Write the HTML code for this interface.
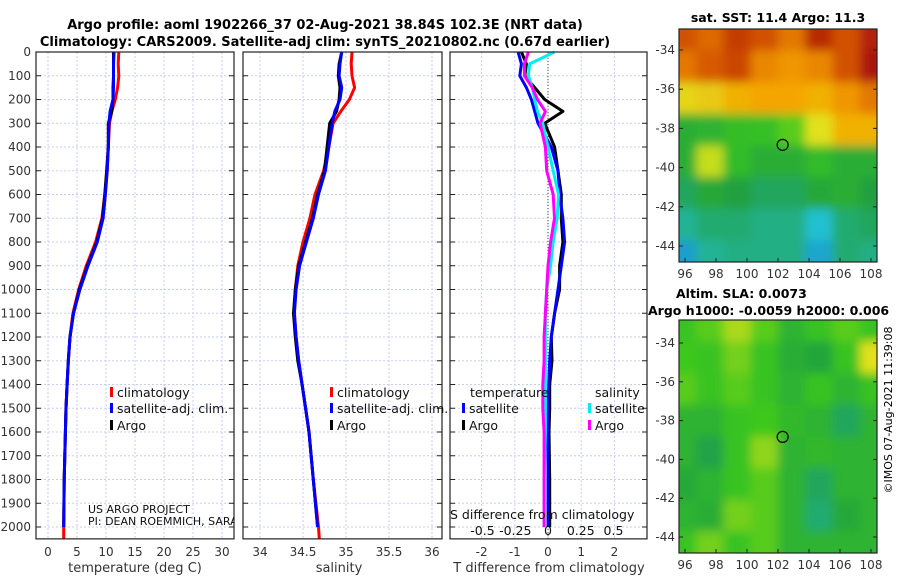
<!DOCTYPE html>
<html><head><meta charset="utf-8"><style>
body{margin:0;background:#fff;width:900px;height:580px;overflow:hidden}
svg text{font-family:"DejaVu Sans","Liberation Sans",sans-serif}
</style></head><body>
<svg id="c" width="900" height="580" viewBox="0 0 900 580">
<text x="325" y="29" font-size="13" font-weight="bold" text-anchor="middle">Argo profile: aoml 1902266_37 02-Aug-2021 38.84S 102.3E (NRT data)</text>
<text x="325" y="46" font-size="13" font-weight="bold" text-anchor="middle">Climatology: CARS2009. Satellite-adj clim: synTS_20210802.nc (0.67d earlier)</text>
<text x="778" y="22" font-size="12.5" font-weight="bold" text-anchor="middle">sat. SST: 11.4 Argo: 11.3</text>
<text x="676" y="298" font-size="12.5" font-weight="bold">Altim. SLA: 0.0073</text>
<text x="648" y="315" font-size="12.5" font-weight="bold">Argo h1000: -0.0059 h2000: 0.006</text>
<text transform="translate(892,410) rotate(-90)" font-size="11" text-anchor="middle">©IMOS 07-Aug-2021 11:39:08</text>
<g id="g"></g>
</svg>
<script>
const depth=[0,50,100,150,200,250,300,400,500,600,700,800,900,1000,1100,1200,1300,1400,1500,1600,1800,2000];
const tempClim=[12.2,12.1,12.2,12.0,11.6,11.0,10.6,10.4,10.2,9.8,9.3,8.2,6.6,5.3,4.3,3.8,3.5,3.3,3.1,3.0,2.8,2.7];
const tempSat=[11.4,11.3,11.3,11.3,11.2,10.7,10.5,10.4,10.2,9.9,9.5,8.5,6.9,5.5,4.4,3.8,3.5,3.3,3.1,3.0,2.8,2.7];
const tempArgo=[11.3,11.3,11.3,11.2,11.2,11.0,10.4,10.4,10.1,9.8,9.4,8.4,6.8,5.4,4.4,3.8,3.5,3.3,3.1,3.0,2.8,2.7];
const salClim=[35.07,35.06,35.07,35.1,35.04,34.94,34.85,34.80,34.74,34.64,34.58,34.50,34.44,34.41,34.40,34.42,34.45,34.49,34.53,34.57,34.62,34.68];
const salSat=[34.95,34.93,34.92,34.95,34.93,34.87,34.84,34.80,34.76,34.68,34.62,34.54,34.46,34.42,34.40,34.42,34.45,34.49,34.53,34.57,34.62,34.67];
const salArgo=[34.95,34.92,34.91,34.93,34.92,34.89,34.81,34.78,34.75,34.67,34.61,34.53,34.45,34.41,34.39,34.41,34.44,34.49,34.53,34.57,34.62,34.67];
const dTempSat=[-0.9,-0.8,-0.85,-0.65,-0.5,-0.4,-0.3,0.1,0.3,0.35,0.45,0.5,0.4,0.3,0.2,0.1,0.05,0.02,0.0,0.0,0.0,0.0];
const dTempArgo=[-0.8,-0.65,-0.7,-0.4,-0.1,0.45,-0.1,0.2,0.3,0.4,0.4,0.45,0.35,0.35,0.2,0.1,0.12,0.05,0.05,0.03,0.05,0.05];
const dSalSat=[0.05,-0.14,-0.15,-0.12,-0.1,-0.08,-0.04,0.0,0.04,0.08,0.07,0.04,0.02,-0.01,-0.02,-0.02,-0.02,-0.02,-0.02,-0.02,-0.03,-0.03];
const dSalArgo=[-0.15,-0.18,-0.18,-0.12,-0.08,-0.02,-0.06,-0.02,-0.01,0.04,0.05,0.02,0.0,-0.01,-0.02,-0.03,-0.03,-0.04,-0.04,-0.03,-0.03,-0.03];
const depthTicks=[0,100,200,300,400,500,600,700,800,900,1000,1100,1200,1300,1400,1500,1600,1700,1800,1900,2000];
const tempTicks=[0,5,10,15,20,25,30];
const salTicks=[34,34.5,35,35.5,36];
const salTickLabels=["34","34.5","35","35.5","36"];
const dTTicks=[-2,-1,0,1,2];
const dSTicks=[-0.5,-0.25,0,0.25,0.5];
const lonTicks=[96,98,100,102,104,106,108];
const latTicks=[-34,-36,-38,-40,-42,-44];
const sstGrid=[
[0.93,0.9,0.95,0.93,0.88,0.97,0.93,0.98],
[0.88,0.92,0.94,0.86,0.84,0.86,0.93,0.99],
[0.74,0.76,0.8,0.82,0.82,0.8,0.84,0.88],
[0.5,0.52,0.56,0.57,0.62,0.72,0.8,0.8],
[0.5,0.7,0.55,0.5,0.5,0.55,0.5,0.5],
[0.42,0.48,0.45,0.42,0.42,0.48,0.5,0.45],
[0.36,0.4,0.4,0.38,0.38,0.3,0.4,0.42],
[0.22,0.36,0.38,0.38,0.38,0.24,0.4,0.38]];
const slaGrid=[
[0.58,0.62,0.68,0.62,0.52,0.58,0.62,0.58],
[0.6,0.58,0.64,0.58,0.5,0.47,0.58,0.72],
[0.62,0.58,0.62,0.58,0.52,0.58,0.52,0.58],
[0.52,0.52,0.58,0.6,0.54,0.52,0.42,0.52],
[0.52,0.44,0.58,0.66,0.52,0.54,0.52,0.52],
[0.48,0.52,0.58,0.62,0.52,0.42,0.52,0.52],
[0.52,0.5,0.64,0.62,0.52,0.4,0.48,0.52],
[0.58,0.64,0.58,0.62,0.52,0.52,0.52,0.52]];
const argoLon=102.3, argoLat=-38.84;

const NS="http://www.w3.org/2000/svg", G=document.getElementById('g');
function mk(t,a,p){const e=document.createElementNS(NS,t);for(const k in a)e.setAttribute(k,a[k]);(p||G).appendChild(e);return e;}
const Y0=52, PX=0.2375, DMAX=2050;
const yD=d=>Y0+d*PX;
const panels=[
 {x0:36,x1:234,xs:v=>48+v*5.8},
 {x0:243,x1:442,xs:v=>260+(v-34)*86},
 {x0:450,x1:647,xs:v=>548+v*33.2}];
const sS=v=>548+v*131;
const yB=yD(DMAX);
panels.forEach((p,i)=>{
 const bg=mk('rect',{x:p.x0,y:Y0,width:p.x1-p.x0,height:yB-Y0,fill:'#fff'});
 
 
 depthTicks.forEach(d=>{const l=mk('line',{x1:p.x0,x2:p.x1,y1:yD(d),y2:yD(d),stroke:'#c8cdf0','stroke-dasharray':'2,2'});
  
  
  mk('line',{x1:p.x0,x2:p.x0+5,y1:yD(d),y2:yD(d),stroke:'#222'});mk('line',{x1:p.x1-5,x2:p.x1,y1:yD(d),y2:yD(d),stroke:'#222'});});
 const tk=i==0?tempTicks:i==1?salTicks:dTTicks;
 tk.forEach((v,j)=>{const x=p.xs(v);const l=mk('line',{x1:x,x2:x,y1:Y0,y2:yB,stroke:'#c8cdf0','stroke-dasharray':'2,2'});
  
  
  const t=mk('text',{x:x,y:556,'font-size':12,'text-anchor':'middle',fill:'#333'});t.textContent=i==1?salTickLabels[j]:String(v);
  
  });
});
depthTicks.forEach(d=>{const t=mk('text',{x:31,y:yD(d)+4,'font-size':12,'text-anchor':'end',fill:'#333'});t.textContent=d;
 
 });
const zl=mk('line',{x1:548,x2:548,y1:Y0,y2:yB,stroke:'#444','stroke-dasharray':'1,2'});


function line(xs,vals,col,name,w,dd){const pts=vals.map((v,k)=>xs(v).toFixed(1)+','+yD(dd?dd[k]:depth[k]).toFixed(1)).join(' ');
 const e=mk('polyline',{points:pts,fill:'none',stroke:col,'stroke-width':w||3,'stroke-linejoin':'round'});
 
 }
line(panels[0].xs,tempClim.concat([tempClim[tempClim.length-1]]),'#f00','temp-climatology-line',3,depth.concat([2050]));
line(panels[0].xs,tempArgo,'#000','temp-argo-line');
line(panels[0].xs,tempSat,'#00f','temp-satellite-line');
line(panels[1].xs,salClim.concat([salClim[salClim.length-1]+0.01]),'#f00','sal-climatology-line',3,depth.concat([2050]));
line(panels[1].xs,salArgo,'#000','sal-argo-line');
line(panels[1].xs,salSat,'#00f','sal-satellite-line');
line(panels[2].xs,dTempArgo,'#000','dtemp-argo-line');
line(panels[2].xs,dTempSat,'#00f','dtemp-satellite-line');
line(sS,dSalSat,'#0ee','dsal-satellite-line');
line(sS,dSalArgo,'#f0f','dsal-argo-line');
panels.forEach((p,i)=>{const b=mk('rect',{x:p.x0,y:Y0,width:p.x1-p.x0,height:yB-Y0,fill:'none',stroke:'#222','stroke-width':1.2});
 
 });
function txt(x,y,s,name,opt){const t=mk('text',Object.assign({x:x,y:y,'font-size':12.5,fill:'#111'},opt||{}));t.textContent=s;
 
 return t;}
function leg(x,y,col,label,name){const m=mk('rect',{x:x,y:y-10,width:3,height:10,fill:col});
 
 
 txt(x+7,y,label,name);}
[[110,'p1'],[330,'p2']].forEach(([x,n])=>{
 leg(x,397,'#f00','climatology',n+'-legend-climatology');
 leg(x,413,'#00f','satellite-adj. clim.',n+'-legend-satellite');
 leg(x,430,'#000','Argo',n+'-legend-argo');});
txt(470,397,'temperature','legend-temperature-header');
leg(462,413,'#00f','satellite','legend-t-satellite');
leg(462,430,'#000','Argo','legend-t-argo');
txt(595,397,'salinity','legend-salinity-header');
leg(588,413,'#0ee','satellite','legend-s-satellite');
leg(588,430,'#f0f','Argo','legend-s-argo');
const cp=mk('clipPath',{id:'cl1'});mk('rect',{x:36,y:0,width:198,height:580},cp);
txt(88,513,'US ARGO PROJECT','project-label',{'font-size':11,'clip-path':'url(#cl1)'});
txt(88,525,'PI: DEAN ROEMMICH, SARAH','pi-label',{'font-size':11,'clip-path':'url(#cl1)'});
txt(450,519,'S difference from climatology','s-axis-title',{'font-size':12.5});
dSTicks.forEach(v=>txt(sS(v),535,String(v),'s-tick-label',{'font-size':12.5,'text-anchor':'middle'}));
txt(135,572,'temperature (deg C)','temp-axis-title',{'font-size':13,'text-anchor':'middle','fill':'#333'});
txt(339,572,'salinity','sal-axis-title',{'font-size':13,'text-anchor':'middle','fill':'#333'});
txt(549,572,'T difference from climatology','t-diff-axis-title',{'font-size':13,'text-anchor':'middle','fill':'#333'});
const stops=[[0,[16,64,200]],[0.3,[32,192,208]],[0.45,[32,160,64]],[0.6,[60,200,30]],[0.72,[225,225,30]],[0.82,[245,165,0]],[0.92,[215,90,0]],[1,[165,15,10]]];
function cmap(v){for(let i=1;i<stops.length;i++){if(v<=stops[i][0]){const a=stops[i-1],b=stops[i],f=(v-a[0])/(b[0]-a[0]);return 'rgb('+a[1].map((c,k)=>Math.round(c+(b[1][k]-c)*f)).join(',')+')';}}return 'rgb(165,15,10)';}
function drawMap(grid,x0,y0,w,h,lat34y,lat44y,name,fid){
 const lonX=l=>685+(l-96)*15.5, latY=l=>lat34y+(-34-l)*(lat44y-lat34y)/10;
 const f=mk('filter',{id:fid,x:'-10%',y:'-10%',width:'120%',height:'120%'});mk('feGaussianBlur',{stdDeviation:5},f);
 const cl=mk('clipPath',{id:fid+'c'});mk('rect',{x:x0,y:y0,width:w,height:h},cl);
 const outer=mk('g',{'clip-path':'url(#'+fid+'c)'});
 
 
 const g=mk('g',{filter:'url(#'+fid+')'},outer);
 const nr=grid.length,nc=grid[0].length,cw=(w+20)/nc,ch=(h+20)/nr;
 grid.forEach((row,r)=>row.forEach((v,c)=>{const e=mk('rect',{x:x0-10+c*cw,y:y0-10+r*ch,width:cw+1,height:ch+1,fill:cmap(v)},g);
  
  }));
 const fr=mk('rect',{x:x0,y:y0,width:w,height:h,fill:'none',stroke:'#222','stroke-width':1.2});
 
 
 lonTicks.forEach(l=>{mk('line',{x1:lonX(l),x2:lonX(l),y1:y0+h,y2:y0+h-4,stroke:'#222'});txt(lonX(l),y0+h+16,String(l),'lon-tick-label',{'font-size':12,'text-anchor':'middle','fill':'#333'});});
 latTicks.forEach(l=>{mk('line',{x1:x0,x2:x0+4,y1:latY(l),y2:latY(l),stroke:'#222'});mk('line',{x1:x0+w,x2:x0+w-4,y1:latY(l),y2:latY(l),stroke:'#222'});txt(x0-4,latY(l)+4,String(l),'lat-tick-label',{'font-size':12,'text-anchor':'end','fill':'#333'});});
 const m=mk('circle',{cx:lonX(argoLon),cy:latY(argoLat),r:5.5,fill:'none',stroke:'#000','stroke-width':1.2});
 
 }
drawMap(sstGrid,679,29,198,233,50,246,'sst-map','f1');
drawMap(slaGrid,679,320,198,233,343,537,'sla-map','f2');
</script>
</body></html>
